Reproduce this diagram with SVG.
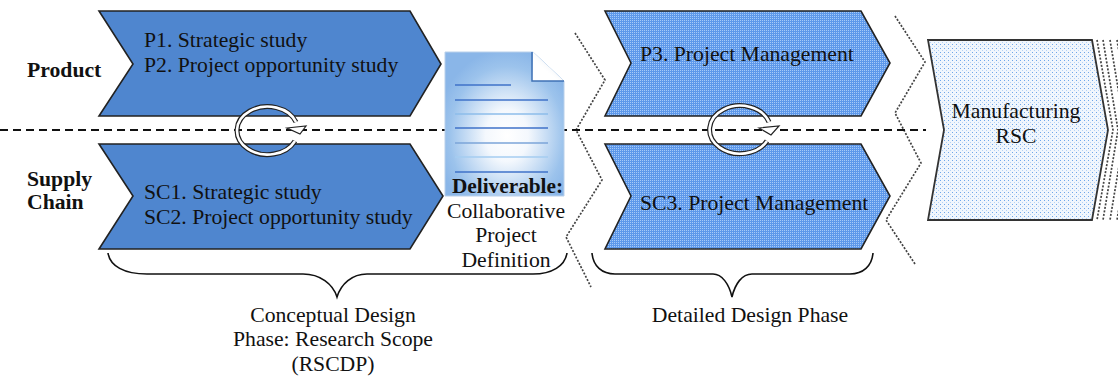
<svg xmlns="http://www.w3.org/2000/svg" width="1118" height="378" viewBox="0 0 1118 378">
<style>
text{font-family:"Liberation Serif","Times New Roman",serif;font-size:21.7px;fill:#111}
.m{text-anchor:middle}
.b{font-weight:bold}
.ch{stroke:#222;stroke-width:1.6;stroke-linejoin:miter}
.solid{fill:#4f86cf}
.dots{fill:url(#dense)}
.zig{fill:none;stroke:#444;stroke-width:1.7;stroke-dasharray:2 1.6}
.brace{fill:none;stroke:#111;stroke-width:1.6}
.ring{fill:none;stroke:#222;stroke-width:5}
.ringin{fill:none;stroke:#fff;stroke-width:2.6}
.head{fill:#fff;stroke:#222;stroke-width:1.2;stroke-linejoin:miter}
.dl{stroke-width:1.5;fill:none}
</style>
<defs>
<pattern id="dense" width="2" height="2" patternUnits="userSpaceOnUse">
<rect width="2" height="2" fill="#5d98ea"/>
<rect width="1" height="1" fill="#a6caf8"/>
</pattern>
<pattern id="light" width="4" height="4" patternUnits="userSpaceOnUse">
<rect width="4" height="4" fill="#f0f6fd"/>
<rect width="1" height="1" fill="#6ea6ea"/>
<rect x="2" y="2" width="1" height="1" fill="#b4d2f4"/>
</pattern>
<radialGradient id="doc" cx="0.52" cy="0.58" r="0.6">
<stop offset="0" stop-color="#ffffff"/>
<stop offset="0.3" stop-color="#f4f8fd"/>
<stop offset="0.8" stop-color="#9cc3ec"/>
<stop offset="1" stop-color="#8ab6e8"/>
</radialGradient>
<linearGradient id="fold" x1="0" y1="1" x2="1" y2="0">
<stop offset="0.4" stop-color="#ffffff"/>
<stop offset="1" stop-color="#dfe6ee"/>
</linearGradient>
</defs>

<g id="connectors">
<path class="zig" d="M575 33L605 80L576 130L602 180L566 237L591 287"/>
<path class="zig" d="M895 16L925 62L895 113L921 163L886 220L915 264"/>
<path d="M0 130H926" fill="none" stroke="#111" stroke-width="2" stroke-dasharray="8 5"/>
</g>

<g id="p1"><path class="ch solid" d="M99 11H410L441 64L410 116H99L133 64Z"/>
<text x="144" y="47">P1. Strategic study</text><text x="144" y="72">P2. Project opportunity study</text></g>
<g id="sc1"><path class="ch solid" d="M99 144H410L443 196L410 249H99L133 196Z"/>
<text x="144" y="199">SC1. Strategic study</text><text x="144" y="224">SC2. Project opportunity study</text></g>
<g id="p3"><path class="ch dots" d="M605 11H861L890 63L861 116H605L631 63Z"/>
<text x="640" y="61">P3. Project Management</text></g>
<g id="sc3"><path class="ch dots" d="M605 144H861L890 196L861 249H605L631 196Z"/>
<text x="640" y="210">SC3. Project Management</text></g>

<g id="cycle1"><path class="ring" d="M295 141A30.500 24 0 1 1 296 122"/><path class="ringin" d="M295 141A30.500 24 0 1 1 296 122"/>
<path class="head" d="M287 128L306 126L300 134Z"/></g>
<g id="cycle2"><path class="ring" d="M767 141A30.500 24 0 1 1 769 122"/><path class="ringin" d="M767 141A30.500 24 0 1 1 769 122"/>
<path class="head" d="M759 128L779 126L771 135Z"/></g>

<g id="deliverable">
<path d="M445 52H533L564 81V196H445Z" fill="url(#doc)" stroke="#b9d0ea" stroke-width="1"/>
<path d="M533 52L564 81H532Z" fill="url(#fold)"/>
<path d="M532 52V81H564" fill="none" stroke="#3f72b5" stroke-width="1.5"/>
<path class="dl" stroke="#3f72c8" d="M455 85H511"/>
<path class="dl" stroke="#3f72c8" d="M455 100H548"/>
<path class="dl" stroke="#8dbdea" d="M455 114H548"/>
<path class="dl" stroke="#3f72c8" d="M455 128H548"/>
<path class="dl" stroke="#7ba5d8" d="M455 143H548"/>
<path class="dl" stroke="#a5cdf0" d="M455 157H548"/>
<path class="dl" stroke="#3f72c8" d="M455 172H548"/>
<text class="m b" x="507.500" y="193" style="font-size:21.300px">Deliverable:</text>
<text class="m" x="506" y="218">Collaborative</text>
<text class="m" x="506" y="242">Project</text>
<text class="m" x="506" y="267">Definition</text>
</g>

<g id="manufacturing">
<path d="M928 40H1092L1108 130L1092 220H928L944 130Z" fill="url(#light)" stroke="#333" stroke-width="1.8"/>
<path class="zig" d="M1097 40L1113 130L1097 220M1103 40L1118 130L1103 220M1110 40L1125 130L1110 220M1117 40L1132 130L1117 220"/>
<text class="m" x="1016" y="118">Manufacturing</text>
<text class="m" x="1016" y="143">RSC</text>
</g>

<g id="product-label"><text class="b" x="27" y="77">Product</text></g>
<g id="supply-label"><text class="b" x="27" y="186">Supply</text><text class="b" x="27" y="209">Chain</text></g>

<g id="brace1"><path class="brace" d="M108 253C110 266 124 274 147 274H303C320 274 333 284 337 297C341 284 352 274 367 274H533C552 274 565 266 567 253"/>
<text class="m" x="333" y="322">Conceptual Design</text>
<text class="m" x="333" y="346">Phase: Research Scope</text>
<text class="m" x="333" y="371">(RSCDP)</text></g>
<g id="brace2"><path class="brace" d="M592 253C593 266 602 274 615 274H713C722 274 729 284 732 297C735 284 742 274 752 274H850C863 274 872 266 873 253"/>
<text class="m" x="750" y="322">Detailed Design Phase</text></g>
</svg>
